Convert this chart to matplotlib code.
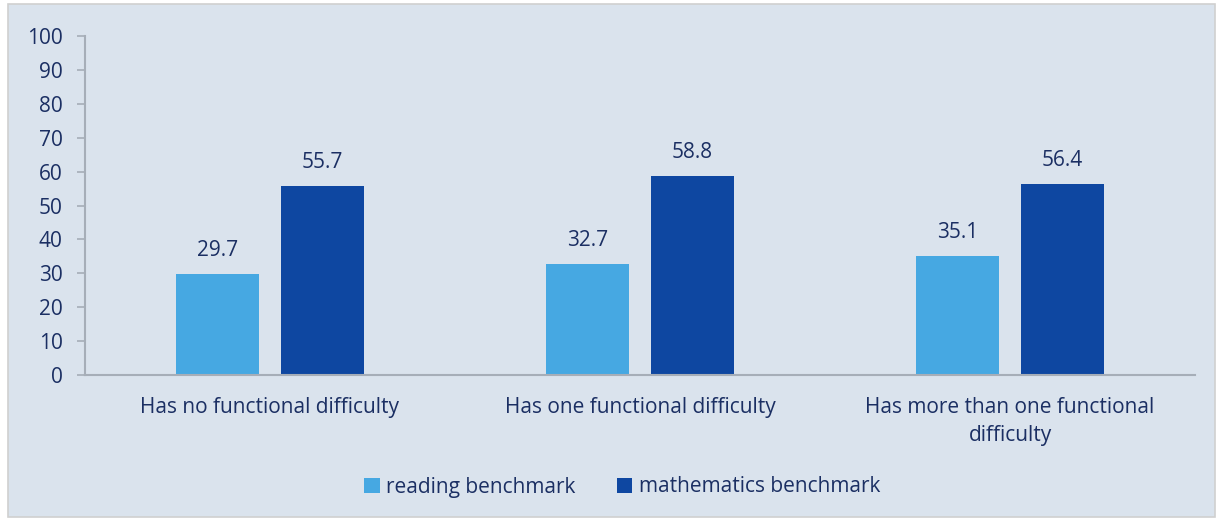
import matplotlib.pyplot as plt
import numpy as np
from matplotlib.patches import Rectangle

categories = ["Has no functional difficulty", "Has one functional difficulty",
              "Has more than one functional\ndifficulty"]
reading = [29.7, 32.7, 35.1]
maths = [55.7, 58.8, 56.4]
series_names = ["reading benchmark", "mathematics benchmark"]

bg = "#DAE3ED"
txt = "#1B2F63"
c_read = "#46A8E2"
c_math = "#0E47A1"
fs = 15

plt.rcParams['font.family'] = ['Open Sans', 'DejaVu Sans']

fig = plt.figure(figsize=(12.22, 5.21), dpi=100)
fig.patch.set_facecolor("white")
fig.patches.append(Rectangle((8 / 1222, 4 / 521), 1207 / 1222, 513 / 521,
                             transform=fig.transFigure, facecolor=bg,
                             edgecolor="#D0D0D0", lw=1.2, zorder=-1))

ax = fig.add_axes([85 / 1222, 1 - 375 / 521, 1110 / 1222, 339 / 521])
ax.set_facecolor(bg)
ax.patch.set_alpha(0)

x = np.arange(len(categories))
w = 0.225
off = 0.142
b1 = ax.bar(x - off, reading, w, color=c_read, label=series_names[0])
b2 = ax.bar(x + off, maths, w, color=c_math, label=series_names[1])
for bars in (b1, b2):
    for b in bars:
        ax.text(b.get_x() + b.get_width() / 2, b.get_height() + 3.8,
                f"{b.get_height():.1f}", ha="center", va="bottom",
                fontsize=fs, color=txt)

ax.set_xlim(-0.5, 2.5)
ax.set_ylim(0, 100)
ax.set_yticks(np.arange(0, 101, 10))
ax.set_xticks(x)
ax.set_xticklabels(categories, fontsize=fs, color=txt, linespacing=1.45)
ax.tick_params(axis="x", length=0, pad=16)
ax.tick_params(axis="y", labelsize=fs, labelcolor=txt, color="#A6AEB8",
               length=6, width=1.2, pad=10)
for s in ("top", "right"):
    ax.spines[s].set_visible(False)
for s in ("left", "bottom"):
    ax.spines[s].set_color("#A6AEB8")
    ax.spines[s].set_linewidth(1.5)

leg = fig.legend(handles=[b1, b2], loc="center", bbox_to_anchor=(622 / 1222, 1 - 487 / 521),
                 ncol=2, frameon=False, fontsize=fs, handlelength=0.75,
                 handleheight=0.75, handletextpad=0.3, columnspacing=2.0)
for t in leg.get_texts():
    t.set_color(txt)

fig.savefig("out.png", dpi=100, facecolor="white")
